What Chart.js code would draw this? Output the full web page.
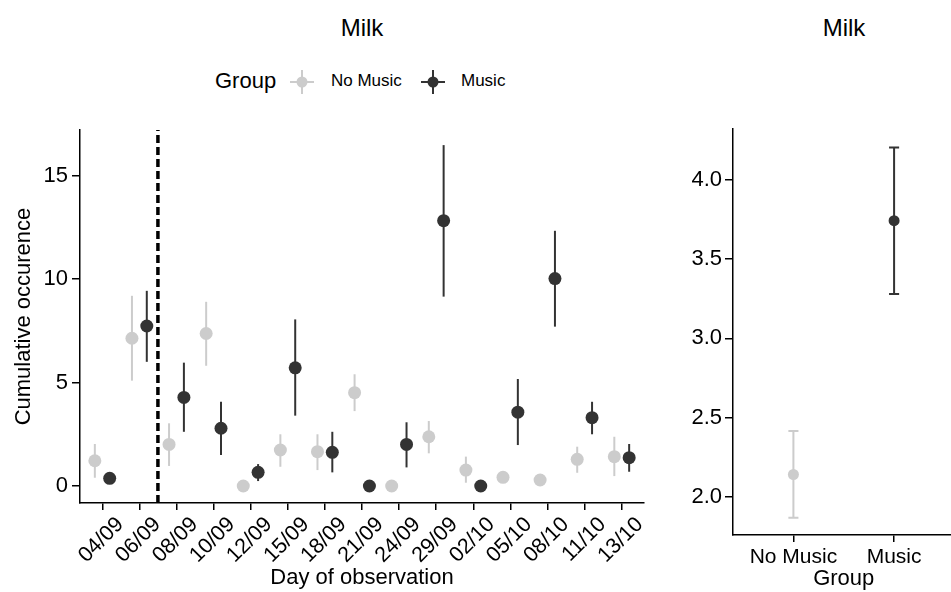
<!DOCTYPE html>
<html>
<head>
<meta charset="utf-8">
<script src="https://cdn.jsdelivr.net/npm/chart.js@4.4.1/dist/chart.umd.min.js"></script>
<style>
  html, body { margin: 0; padding: 0; background: #fff; overflow: hidden; width: 951px; height: 592px; }
  body { position: relative; font-family: 'Liberation Sans', Arial, sans-serif; color: #000; }
  .txt { position: absolute; line-height: 1; white-space: nowrap; }
  .mid { transform: translateX(-50%); }
  canvas { position: absolute; top: 0; }
  svg { position: absolute; }
</style>
</head>
<body>
<div class="txt mid" style="left:362px; top:16px; font-size:24px;">Milk</div>
<div class="txt mid" style="left:844px; top:16px; font-size:24px;">Milk</div>

<div class="txt" style="left:215px; top:70px; font-size:22px;">Group</div>
<svg style="left:289px; top:69px;" width="26" height="26">
  <line x1="1" y1="13" x2="25" y2="13" stroke="#cccccc" stroke-width="2"/>
  <line x1="13" y1="1" x2="13" y2="25" stroke="#cccccc" stroke-width="2"/>
  <circle cx="13" cy="13" r="5.5" fill="#cccccc"/>
</svg>
<div class="txt" style="left:331px; top:72px; font-size:17px;">No Music</div>
<svg style="left:420px; top:69px;" width="26" height="26">
  <line x1="1" y1="13" x2="25" y2="13" stroke="#333333" stroke-width="2"/>
  <line x1="13" y1="1" x2="13" y2="25" stroke="#333333" stroke-width="2"/>
  <circle cx="13" cy="13" r="5.5" fill="#333333"/>
</svg>
<div class="txt" style="left:461px; top:72px; font-size:17px;">Music</div>

<canvas id="left" width="660" height="592" style="left:0;"></canvas>
<canvas id="right" width="300" height="592" style="left:660px;"></canvas>

<script>
// days of observation
const days = ['04/09', '06/09', '08/09', '10/09', '12/09', '15/09', '18/09', '21/09',
  '24/09', '29/09', '02/10', '05/10', '08/10', '11/10', '13/10']

const noMusicMean = [1.22, 7.14, 2.01, 7.37, 0.0, 1.74, 1.66, 4.51, 0.0, 2.38, 0.77, 0.42, 0.29, 1.29, 1.42]
const noMusicLo = [0.40, 5.09, 0.97, 5.81, 0.0, 0.93, 0.77, 3.62, 0.0, 1.58, 0.16, 0.42, 0.29, 0.64, 0.48]
const noMusicHi = [2.03, 9.19, 3.03, 8.90, 0.0, 2.50, 2.50, 5.40, 0.0, 3.14, 1.42, 0.42, 0.29, 1.90, 2.38]

const musicMean = [0.37, 7.73, 4.28, 2.79, 0.66, 5.71, 1.63, 0.0, 2.01, 12.82, 0.0, 3.57, 10.02, 3.30, 1.37]
const musicLo = [0.37, 6.00, 2.62, 1.50, 0.24, 3.40, 0.66, 0.0, 0.90, 9.15, 0.0, 1.98, 7.70, 2.50, 0.69]
const musicHi = [0.37, 9.43, 5.96, 4.07, 1.06, 8.05, 2.62, 0.0, 3.08, 16.47, 0.0, 5.17, 12.33, 4.07, 2.03]

const leftTicks = [0, 5, 10, 15]
const startLine = 2.5 // between 06/09 and 08/09

// overall per group
const groups = ['No Music', 'Music']
const groupMean = [2.14, 3.742]
const groupLo = [1.867, 3.279]
const groupHi = [2.415, 4.205]
const rightTicks = [2.0, 2.5, 3.0, 3.5, 4.0]

const GREY = '#cccccc'
const DARK = '#333333'

Chart.defaults.font.family = "'Liberation Sans', Arial, sans-serif"
Chart.defaults.color = '#000'
Chart.defaults.animation = false

const errorBars = {
  id: 'errorBars',
  beforeDatasetsDraw (chart, args, opts) {
    const { ctx, scales: { x, y } } = chart
    chart.data.datasets.forEach((ds) => {
      if (!ds.errLo) return
      ctx.save()
      ctx.strokeStyle = ds.borderColor
      ctx.lineWidth = opts.width
      ds.data.forEach((p, i) => {
        const px = x.getPixelForValue(p.x)
        const top = y.getPixelForValue(ds.errHi[i])
        const bot = y.getPixelForValue(ds.errLo[i])
        ctx.beginPath()
        ctx.moveTo(px, top)
        ctx.lineTo(px, bot)
        if (opts.cap) {
          const l = x.getPixelForValue(p.x - opts.cap / 2)
          const r = x.getPixelForValue(p.x + opts.cap / 2)
          ctx.moveTo(l, top); ctx.lineTo(r, top)
          ctx.moveTo(l, bot); ctx.lineTo(r, bot)
        }
        ctx.stroke()
      })
      ctx.restore()
    })
  }
}

function axisStyle (tickLength) {
  return {
    grid: { display: true, drawOnChartArea: false, drawTicks: true, tickLength: tickLength, color: '#000', lineWidth: 1.5 },
    border: { display: true, color: '#000', width: 1.5 }
  }
}

function points (mean, lo, hi, offset, color, label, radius) {
  return {
    label: label,
    data: mean.map((v, i) => ({ x: i + 1 + offset, y: v })),
    errLo: lo,
    errHi: hi,
    backgroundColor: color,
    borderColor: color,
    borderWidth: 0,
    pointRadius: radius,
    pointHoverRadius: radius
  }
}

new Chart(document.getElementById('left'), {
  type: 'scatter',
  data: {
    datasets: [
      points(noMusicMean, noMusicLo, noMusicHi, -0.2, GREY, 'No Music', 6.5),
      points(musicMean, musicLo, musicHi, 0.2, DARK, 'Music', 6.5),
      {
        type: 'line',
        label: 'start',
        data: [{ x: startLine, y: -0.82 }, { x: startLine, y: 17.2 }],
        borderColor: '#000',
        borderWidth: 3.5,
        borderDash: [8, 4],
        pointRadius: 0
      }
    ]
  },
  options: {
    responsive: false,
    layout: { padding: { top: 130, right: 16, left: 0, bottom: 0 } },
    plugins: { legend: { display: false }, tooltip: { enabled: false }, errorBars: { width: 2 } },
    scales: {
      x: {
        type: 'linear',
        min: 0.4,
        max: 15.6,
        afterBuildTicks: (s) => { s.ticks = days.map((d, i) => ({ value: i + 1 })) },
        afterFit: (s) => { s.height = 89 },
        ticks: { callback: (v, i) => days[i], autoSkip: false, maxRotation: 45, minRotation: 45, font: { size: 21.5 }, padding: 2, labelOffset: 18 },
        title: { display: true, text: 'Day of observation', font: { size: 22 }, padding: { top: 0, bottom: 1 } },
        ...axisStyle(7)
      },
      y: {
        min: -0.82,
        max: 17.2,
        afterBuildTicks: (s) => { s.ticks = leftTicks.map((v) => ({ value: v })) },
        afterFit: (s) => { s.width = 80 },
        ticks: { font: { size: 22 }, padding: 4 },
        title: { display: true, text: 'Cumulative occurence', font: { size: 22 }, padding: { top: 11, bottom: 0 } },
        ...axisStyle(8)
      }
    }
  },
  plugins: [errorBars]
})

new Chart(document.getElementById('right'), {
  type: 'scatter',
  data: {
    datasets: [
      { ...points([groupMean[0]], [groupLo[0]], [groupHi[0]], 0, GREY, groups[0], 5.5) },
      { ...points([groupMean[1]], [groupLo[1]], [groupHi[1]], 1, DARK, groups[1], 5.5) }
    ]
  },
  options: {
    responsive: false,
    layout: { padding: { top: 129, right: 5, left: 0, bottom: 0 } },
    plugins: { legend: { display: false }, tooltip: { enabled: false }, errorBars: { width: 2, cap: 0.1 } },
    scales: {
      x: {
        type: 'linear',
        min: 0.4,
        max: 2.6,
        afterBuildTicks: (s) => { s.ticks = groups.map((g, i) => ({ value: i + 1 })) },
        afterFit: (s) => { s.height = 57 },
        ticks: { callback: (v, i) => groups[i], autoSkip: false, maxRotation: 0, font: { size: 21 }, padding: 3 },
        title: { display: true, text: 'Group', font: { size: 22 }, padding: { top: 0, bottom: 0 } },
        ...axisStyle(7)
      },
      y: {
        min: 1.758,
        max: 4.321,
        afterBuildTicks: (s) => { s.ticks = rightTicks.map((v) => ({ value: v })) },
        afterFit: (s) => { s.width = 73 },
        ticks: { font: { size: 22 }, padding: 3, callback: (v) => v.toFixed(1) },
        ...axisStyle(8)
      }
    }
  },
  plugins: [errorBars]
})
</script>
</body>
</html>
